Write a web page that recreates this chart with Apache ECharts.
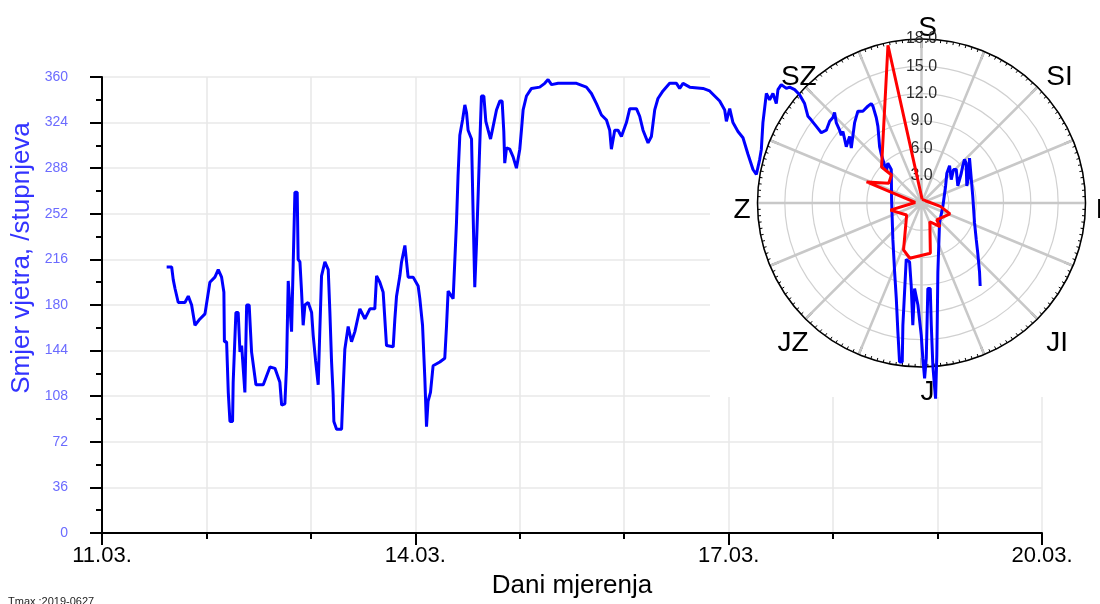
<!DOCTYPE html>
<html>
<head>
<meta charset="utf-8">
<script src="https://cdn.jsdelivr.net/npm/echarts@6/dist/echarts.min.js"></script>
<style>html,body{margin:0;padding:0;background:#fff;}#chart{width:1100px;height:604px;}</style>
</head>
<body>
<div id="chart"></div>
<script>
// Day labels (x axis: days since 11.03.)
const dayLabels = ['11.03.', '12.03.', '13.03.', '14.03.', '15.03.', '16.03.', '17.03.', '18.03.', '19.03.', '20.03.'];

// Time (days since 11.03. 00:00)
const timeDays = [
  0.619, 0.667, 0.682, 0.699, 0.730, 0.794, 0.826, 0.858, 0.890, 0.938, 0.986,
  1.033, 1.081, 1.113, 1.145, 1.167, 1.172, 1.193, 1.209, 1.225, 1.250, 1.256, 1.282, 1.304, 1.321, 1.337,
  1.368, 1.385, 1.409, 1.432, 1.474, 1.544, 1.608, 1.656, 1.703, 1.720, 1.751, 1.767, 1.775, 1.783, 1.799,
  1.815, 1.831, 1.847, 1.869, 1.878, 1.895, 1.911, 1.926, 1.943, 1.974,
  2.007, 2.022, 2.045, 2.070, 2.086, 2.102, 2.134, 2.166, 2.182, 2.198, 2.213, 2.220, 2.246, 2.294, 2.309,
  2.325, 2.357, 2.389, 2.421, 2.469, 2.517, 2.565, 2.612, 2.629, 2.660, 2.692, 2.708, 2.724, 2.788, 2.804,
  2.820, 2.852, 2.868, 2.900, 2.916, 2.931, 2.979,
  3.027, 3.043, 3.069, 3.091, 3.107, 3.122, 3.145, 3.170, 3.234, 3.282, 3.299, 3.314, 3.362, 3.378, 3.394,
  3.409, 3.426, 3.452, 3.474, 3.490, 3.505, 3.538, 3.553, 3.569, 3.586, 3.601, 3.617, 3.633, 3.656, 3.675,
  3.697, 3.720, 3.745, 3.777, 3.809, 3.831, 3.847, 3.856, 3.873, 3.904, 3.936, 3.968,
  4.000, 4.016, 4.032, 4.064, 4.112, 4.191, 4.239, 4.271, 4.304, 4.367, 4.543, 4.638, 4.686, 4.734, 4.782,
  4.830, 4.861, 4.877, 4.909, 4.941, 4.973,
  5.021, 5.053, 5.117, 5.148, 5.180, 5.228, 5.260, 5.292, 5.323, 5.371, 5.435, 5.500, 5.531, 5.563, 5.627,
  5.754, 5.818, 5.866, 5.914, 5.962, 5.978,
  6.010, 6.041, 6.089, 6.137, 6.185, 6.233, 6.265, 6.297, 6.313, 6.328, 6.361, 6.392, 6.424, 6.456, 6.472,
  6.504, 6.552, 6.584, 6.632, 6.679, 6.727, 6.759, 6.791, 6.839, 6.887, 6.935, 6.967, 6.998,
  7.014, 7.030, 7.062, 7.078, 7.094, 7.110, 7.126, 7.158, 7.174, 7.206, 7.237, 7.285, 7.333, 7.365, 7.381,
  7.413, 7.429, 7.445, 7.461, 7.476, 7.493, 7.509, 7.524, 7.541, 7.557, 7.560, 7.572, 7.589, 7.605, 7.620,
  7.636, 7.662, 7.668, 7.684, 7.700, 7.732, 7.748, 7.763, 7.780, 7.812, 7.844, 7.859, 7.876, 7.892, 7.907,
  7.930, 7.940, 7.955, 7.981, 7.993,
  8.003, 8.019, 8.051, 8.077, 8.089, 8.115, 8.131, 8.153, 8.179, 8.194, 8.227, 8.242, 8.258, 8.274, 8.280,
  8.299, 8.306, 8.322, 8.337, 8.354, 8.370, 8.385, 8.402, 8.408
];

// Wind direction, degrees
const windDir = [
  210, 210, 200, 193, 182, 182, 187, 180, 164, 169, 173,
  198, 202, 208, 202, 190, 151, 151, 111, 88, 88, 119, 174, 174, 143, 148,
  111, 180, 180, 143, 117, 117, 131, 130, 119, 101, 102, 132, 166, 199, 198,
  159, 214, 269, 269, 216, 214, 190, 164, 180, 182,
  174, 156, 136, 117, 161, 203, 214, 208, 174, 135, 109, 88, 82, 82, 114,
  145, 163, 151, 159, 177, 169, 177, 177, 203, 198, 190, 169, 148, 147, 169,
  187, 203, 214, 227, 214, 202, 202,
  195, 185, 164, 122, 84, 104, 111, 132, 135, 138, 164, 191, 185, 215, 245,
  282, 314, 326, 338, 332, 318, 311, 253, 194, 229, 266, 307, 345, 345, 325,
  318, 311, 321, 334, 341, 341, 317, 292, 304, 303, 297, 288,
  303, 318, 334, 345, 351, 352, 355, 358, 354, 355, 355, 352, 347, 339, 330,
  326, 318, 303, 318, 318, 313,
  324, 335, 335, 329, 318, 308, 313, 334, 343, 349, 355, 355, 351, 355, 352,
  351, 349, 345, 341, 334, 325,
  335, 324, 317, 312, 299, 287, 283, 295, 303, 324, 347, 342, 347, 339, 350,
  354, 351, 352, 350, 346, 339, 329, 326, 321, 316, 318, 325, 328,
  332, 324, 318, 314, 317, 317, 305, 313, 304, 324, 333, 333, 337, 339, 337,
  328, 321, 305, 299, 295, 295, 286, 292, 292, 287, 263, 232, 206, 185, 159,
  135, 135, 164, 190, 216, 214, 195, 164, 193, 180, 156, 138, 122, 138, 193,
  193, 164, 132, 106, 140,
  206, 245, 258, 274, 284, 290, 279, 287, 287, 274, 284, 290, 295, 292, 274,
  282, 296, 295, 266, 245, 232, 221, 206, 195
];

// Compass rose labels (Croatian)
const compassAngles = [0, 45, 90, 135, 180, 225, 270, 315];
const compassLabels = ['S', 'SI', 'I', 'JI', 'J', 'JZ', 'Z', 'SZ'];

// Wind rose (red): direction angle (deg, clockwise from north) and value
const roseAngles = [10, 60, 100, 111, 138, 142, 156, 170, 192, 201, 231, 257, 275, 291, 301, 313, 312, 348, 10];
const roseValues = [0.4, 0.5, 2.1, 3.35, 2.5, 3.3, 2.25, 5.6, 6.2, 5.5, 2.1, 3.5, 0.7, 6.45, 4.2, 4.5, 5.9, 17.7, 0.4];

const sans = "'Liberation Sans', Arial, sans-serif";

const lineData = timeDays.map((t, i) => [t, windDir[i]]);
const roseData = roseAngles.map((a, i) => [roseValues[i], a]);

// per-label nudges (rich text padding) for compass labels
const compassRich = {
  z: {fontSize: 28, fontFamily: sans, color: '#000', padding: [0, 9, 0, 0]},
  sz: {fontSize: 28, fontFamily: sans, color: '#000', padding: [0, -8, 0, 0]},
  n: {fontSize: 28, fontFamily: sans, color: '#000'}
};

const chart = echarts.init(document.getElementById('chart'), null, {renderer: 'canvas'});
const option = {
  animation: false,
  backgroundColor: '#ffffff',
  grid: {left: 102, right: 58, top: 77, bottom: 69, containLabel: false},
  xAxis: {
    type: 'value', min: 0, max: 9, interval: 3, z: 0,
    axisLine: {lineStyle: {color: '#000', width: 2}},
    axisTick: {length: 12, lineStyle: {color: '#000', width: 2}},
    minorTick: {show: true, splitNumber: 3, length: 6, lineStyle: {color: '#000', width: 2}},
    splitLine: {show: true, lineStyle: {color: '#e8e8e8', width: 1.5}},
    minorSplitLine: {show: true, lineStyle: {color: '#e8e8e8', width: 1.5}},
    axisLabel: {formatter: v => dayLabels[Math.round(v)] || '', fontSize: 22, fontFamily: sans, color: '#000', margin: 12},
    name: 'Dani mjerenja', nameLocation: 'middle', nameGap: 40,
    nameTextStyle: {fontSize: 26, fontFamily: sans, color: '#000'}
  },
  yAxis: {
    type: 'value', min: 0, max: 360, interval: 36, z: 0,
    axisLine: {show: true, lineStyle: {color: '#000', width: 2}},
    axisTick: {show: true, length: 12, lineStyle: {color: '#000', width: 2}},
    minorTick: {show: true, splitNumber: 2, length: 6, lineStyle: {color: '#000', width: 2}},
    splitLine: {show: true, lineStyle: {color: '#e8e8e8', width: 1.5}},
    axisLabel: {fontSize: 14, fontFamily: sans, color: '#6b6bff', margin: 34}
  },
  polar: [
    {center: [921.5, 203], radius: 164},
    {center: [927.5, 210], radius: 164}
  ],
  angleAxis: [
    {
      polarIndex: 0, type: 'value', min: 0, max: 360, interval: 22.5, startAngle: 90, clockwise: true, z: 2,
      axisLine: {show: true, lineStyle: {color: '#000', width: 1.5}},
      axisTick: {show: true, inside: true, length: 9, lineStyle: {color: '#000', width: 2}},
      minorTick: {show: true, splitNumber: 10, length: 3, lineStyle: {color: '#000', width: 1}},
      splitLine: {show: true, lineStyle: {color: '#c8c8c8', width: 2.5}},
      axisLabel: {show: false}
    },
    {
      polarIndex: 1, type: 'value', min: 0, max: 360, interval: 45, startAngle: 90, clockwise: true, z: 2,
      axisLine: {show: false}, axisTick: {show: false}, splitLine: {show: false}, minorTick: {show: false},
      axisLabel: {
        formatter: v => {
          const i = compassAngles.indexOf(v);
          if (i < 0) return '';
          const lab = compassLabels[i];
          const key = lab === 'Z' ? 'z' : (lab === 'SZ' ? 'sz' : 'n');
          return '{' + key + '|' + lab + '}';
        },
        rich: compassRich, fontSize: 28, fontFamily: sans, color: '#000', margin: 4
      }
    }
  ],
  radiusAxis: [
    {
      polarIndex: 0, type: 'value', min: 0, max: 18, interval: 3, z: 2,
      axisLine: {show: false},
      axisTick: {show: false},
      splitLine: {show: true, lineStyle: {color: '#d0d0d0', width: 1.2}},
      axisLabel: {
        formatter: v => v === 0 ? '' : v.toFixed(1),
        fontSize: 16, fontFamily: sans, color: '#2a2a2a', margin: 0, align: 'center', verticalAlign: 'middle'
      }
    },
    {
      polarIndex: 1, type: 'value', min: 0, max: 18, z: 2,
      axisLine: {show: false}, axisTick: {show: false}, splitLine: {show: false}, axisLabel: {show: false}
    }
  ],
  graphic: [
    {type: 'rect', z: 1, shape: {x: 710, y: 0, width: 390, height: 397}, style: {fill: '#ffffff'}},
    {type: 'text', z: 5, x: 22, y: 258, rotation: Math.PI / 2,
     style: {text: 'Smjer vjetra, /stupnjeva', fill: '#3333ff', fontSize: 26, fontFamily: sans, align: 'center', verticalAlign: 'middle'}},
    {type: 'text', z: 5, x: 8, y: 596,
     style: {text: 'Tmax :2019-0627', fill: '#222', fontSize: 11, fontFamily: sans}}
  ],
  series: [
    {
      type: 'line', name: 'Smjer', data: lineData, xAxisIndex: 0, yAxisIndex: 0, z: 3,
      symbol: 'none', lineStyle: {color: '#0000ff', width: 3}, itemStyle: {color: '#0000ff'}
    },
    {
      type: 'line', name: 'Ruža', coordinateSystem: 'polar', polarIndex: 0, data: roseData, z: 4,
      symbol: 'none', lineStyle: {color: '#ff0000', width: 3}, itemStyle: {color: '#ff0000'}
    }
  ]
};
chart.setOption(option);
</script>
</body>
</html>
